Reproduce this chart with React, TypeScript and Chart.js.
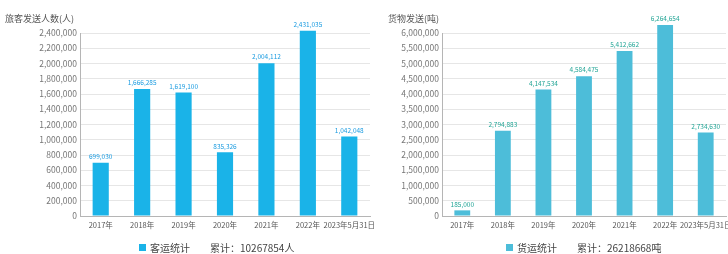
import React, { useEffect, useRef } from "react";
import { Chart, registerables } from "chart.js";

Chart.register(...registerables);

const CATEGORIES = ["2017年", "2018年", "2019年", "2020年", "2021年", "2022年", "2023年5月31日"];
const PASSENGER_VALUES = [699030, 1666285, 1619100, 835326, 2004112, 2431035, 1042048];
const FREIGHT_VALUES = [185000, 2794883, 4147534, 4584475, 5412662, 6264654, 2734630];
const PASSENGER_AXIS = { max: 2400000, step: 200000 };
const FREIGHT_AXIS = { max: 6000000, step: 500000 };
const PASSENGER_TITLE = "旅客发送人数(人)";
const FREIGHT_TITLE = "货物发送(吨)";
const PASSENGER_LEGEND = "客运统计";
const FREIGHT_LEGEND = "货运统计";
const PASSENGER_TOTAL = "累计：10267854人";
const FREIGHT_TOTAL = "累计：26218668吨";

const FONT = "'Noto Sans CJK SC', 'Liberation Sans', sans-serif";
const fmt = (v: number) => v.toLocaleString("en-US");

const valueLabelPlugin = {
  id: "valueLabels",
  afterDatasetsDraw(chart: any) {
    const ctx = chart.ctx;
    const color = chart.options.plugins.valueLabels?.color || "#333";
    chart.data.datasets.forEach((ds: any, di: number) => {
      const meta = chart.getDatasetMeta(di);
      meta.data.forEach((el: any, i: number) => {
        ctx.save();
        ctx.font = `6.5px ${FONT}`;
        ctx.fillStyle = color;
        ctx.textAlign = "center";
        ctx.textBaseline = "bottom";
        ctx.fillText(fmt(ds.data[i]), el.x, el.y - 3);
        ctx.restore();
      });
    });
  },
};

type PanelProps = {
  left: number;
  width: number;
  axisWidth: number;
  padRight: number;
  values: number[];
  axis: { max: number; step: number };
  barColor: string;
  labelColor: string;
  label: string;
};

function BarPanel(p: PanelProps) {
  const ref = useRef<HTMLCanvasElement | null>(null);
  useEffect(() => {
    if (!ref.current) return;
    const height = 240;
    const chart = new Chart(ref.current, {
      type: "bar",
      data: {
        labels: CATEGORIES,
        datasets: [
          {
            label: p.label,
            data: p.values,
            backgroundColor: p.barColor,
            barPercentage: 0.39,
            categoryPercentage: 1,
            clip: false as any,
          },
        ],
      },
      options: {
        animation: false,
        responsive: false,
        maintainAspectRatio: false,
        layout: { padding: { top: 33, right: p.padRight, left: 0, bottom: 0 } },
        plugins: {
          legend: { display: false },
          tooltip: { enabled: false },
          valueLabels: { color: p.labelColor },
        } as any,
        scales: {
          x: {
            grid: { display: false, drawTicks: false },
            border: { color: "#b5b5b5" },
            ticks: { color: "#555", font: { size: 7.5, family: FONT }, padding: 5, maxRotation: 0, autoSkip: false },
            afterFit: (s: any) => {
              s.height = height - 216;
            },
          },
          y: {
            min: 0,
            max: p.axis.max,
            grid: {
              drawTicks: false,
              color: (c: any) => (c.tick && c.tick.value === 0 ? "#b5b5b5" : "#e6e6e6"),
            },
            border: { color: "#b5b5b5" },
            ticks: {
              stepSize: p.axis.step,
              color: "#777",
              font: { size: 8.5, family: FONT },
              padding: 3,
              callback: (v: any) => fmt(Number(v)),
            },
            afterFit: (s: any) => {
              s.width = p.axisWidth;
            },
          },
        },
      },
      plugins: [valueLabelPlugin],
    });
    return () => chart.destroy();
  }, []);
  return (
    <canvas
      ref={ref}
      width={p.width}
      height={240}
      style={{ position: "absolute", left: p.left, top: 0, width: p.width, height: 240 }}
    />
  );
}

function Legend(props: { x: number; color: string; name: string; total: string }) {
  return (
    <div
      style={{
        position: "absolute",
        left: props.x,
        top: 239,
        height: 16,
        display: "flex",
        alignItems: "center",
        fontFamily: FONT,
        fontSize: 10,
        color: "#444",
        whiteSpace: "nowrap",
      }}
    >
      <span style={{ display: "inline-block", width: 7, height: 7, background: props.color, marginRight: 4 }} />
      <span>{props.name}</span>
      <span style={{ marginLeft: 20 }}>{props.total}</span>
    </div>
  );
}

export default function App() {
  return (
    <div
      style={{
        position: "fixed",
        left: 0,
        top: 0,
        width: 728,
        height: 254,
        overflow: "hidden",
        background: "#fff",
      }}
    >
      <BarPanel
        left={0}
        width={400}
        axisWidth={80}
        padRight={30}
        values={PASSENGER_VALUES}
        axis={PASSENGER_AXIS}
        barColor="#1ab3e8"
        labelColor="#1a9be0"
        label={PASSENGER_LEGEND}
      />
      <BarPanel
        left={370}
        width={372}
        axisWidth={72}
        padRight={16}
        values={FREIGHT_VALUES}
        axis={FREIGHT_AXIS}
        barColor="#4dbdd9"
        labelColor="#23a596"
        label={FREIGHT_LEGEND}
      />
      <div style={{ position: "absolute", left: 5, top: 12, fontFamily: FONT, fontSize: 9, color: "#555", whiteSpace: "nowrap" }}>
        {PASSENGER_TITLE}
      </div>
      <div style={{ position: "absolute", left: 388, top: 12, fontFamily: FONT, fontSize: 9, color: "#555", whiteSpace: "nowrap" }}>
        {FREIGHT_TITLE}
      </div>
      <Legend x={139} color="#1ab3e8" name={PASSENGER_LEGEND} total={PASSENGER_TOTAL} />
      <Legend x={506} color="#4dbdd9" name={FREIGHT_LEGEND} total={FREIGHT_TOTAL} />
    </div>
  );
}
